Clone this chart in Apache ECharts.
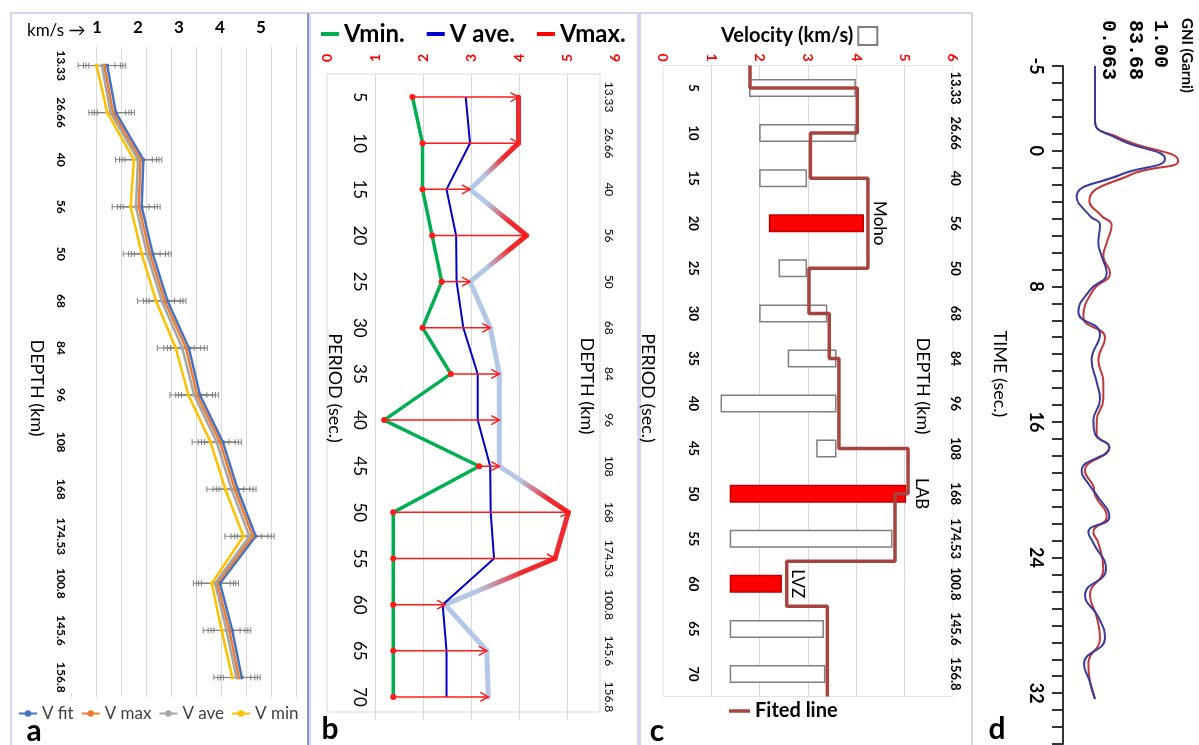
<!DOCTYPE html>
<html><head><meta charset="utf-8">
<script src="https://cdn.jsdelivr.net/npm/echarts@6/dist/echarts.min.js"></script>
<style>html,body{margin:0;padding:0;background:#fff}#c{width:1199px;height:745px}</style>
</head><body><div id="c"></div>
<script>
// ---------- Panel a ----------
const depthLabels = ['13.33','26.66','40','56','50','68','84','96','108','168','174.53','100.8','145.6','156.8'];
const vFit = [1.25,1.46,2.13,2.09,2.36,2.72,3.24,3.51,4.07,4.43,4.87,4.00,4.30,4.53];
const vMaxA = [1.18,1.39,2.06,2.02,2.29,2.65,3.17,3.44,4.00,4.36,4.80,3.93,4.23,4.46];
const vAveA = [1.12,1.33,2.00,1.95,2.22,2.58,3.08,3.37,3.92,4.28,4.72,3.88,4.16,4.40];
const vMinA = [0.99,1.25,1.90,1.82,2.09,2.44,2.92,3.23,3.77,4.13,4.57,3.80,4.04,4.30];
const errA = 0.45;
const speedTicksA = [1,2,3,4,5];

// ---------- Panel b / c ----------
const periods = ['5','10','15','20','25','30','35','40','45','50','55','60','65','70'];
const vMinB = [1.78,1.99,1.99,2.19,2.39,1.99,2.58,1.19,3.17,1.38,1.38,1.38,1.38,1.38];
const vAveB = [2.89,2.98,2.49,2.69,2.70,2.84,3.14,3.14,3.40,3.41,3.48,2.41,2.49,2.49];
const vMaxB = [3.99,3.99,2.98,4.16,2.98,3.40,3.59,3.59,3.59,5.03,4.75,2.46,3.33,3.36];
const vMaxHot = [1,1,0,1,0,0,0,0,0,1,1,0,0,0];
const redBars = [0,0,0,1,0,0,0,0,0,1,0,1,0,0];
const barNotes = ['','','','Moho','','','','','','LAB','','LVZ','',''];
const fitVel = [1.80,4.02,3.05,4.24,3.02,3.44,3.64,5.07,4.80,2.56,3.40];
const fitBreaks = [-0.5,0,1,2,4,5,6,8,9,10.5,11.5,13.5];

// ---------- Panel d ----------
const timeTicks = [-5,0,8,16,24,32];
const blueTrace = [[0,-5],[0,-1.76],[0.27,-0.75],[0.875,0.49],[0.31,1.43],[-0.23,2.73],[-0.0625,3.85],[0.0625,4.38],[0.042,5.44],[0.083,6.21],[0.146,7.21],[-0.0625,8.22],[-0.208,9.51],[0.0625,10.81],[-0.042,12.35],[0.021,13.64],[0.0625,14.65],[-0.021,15.94],[0,16.71],[0.179,17.48],[-0.167,18.89],[-0.0625,19.78],[0.021,20.31],[0.179,21.61],[-0.083,22.49],[-0.021,23.14],[0.1375,24.68],[-0.125,26.21],[0.042,27.51],[0.125,28.75],[-0.1375,30.28],[-0.0625,31.34],[0,32.35]];
const redTrace = [[0,-5],[0,-1.76],[0.3125,-0.75],[1.04,0.60],[0.4375,1.43],[-0.071,2.96],[0.083,3.85],[0.208,4.38],[0.146,5.44],[0.104,6.21],[0.1875,7.21],[-0.021,8.22],[-0.146,9.81],[0.125,11.05],[0.042,12.35],[0.104,13.64],[0.104,14.65],[0.021,15.94],[0.021,16.71],[0.179,17.48],[-0.125,18.89],[-0.021,19.78],[0,20.31],[0.146,21.61],[-0.021,22.49],[0.042,23.14],[0.104,24.68],[-0.0625,26.21],[0.021,27.51],[0.0625,28.75],[-0.083,30.28],[-0.0625,31.34],[0,32.35]];

const FF = 'Lato, "Noto Sans", "DejaVu Sans", sans-serif';
const chart = echarts.init(document.getElementById('c'), null, {renderer:'canvas'});

const errData = [];
[vFit, vMaxA, vAveA, vMinA].forEach(arr => arr.forEach((v,i) => errData.push([i, v])));

const segData = [];
for (let i = 0; i < vMaxB.length - 1; i++) segData.push([i, vMaxB[i], vMaxB[i+1], vMaxHot[i], vMaxHot[i+1]]);

const arrowData = periods.map((p,i) => [i, vMinB[i], vMaxB[i]]);

const fitPts = [];
fitVel.forEach((v,k) => { fitPts.push([v, fitBreaks[k]]); fitPts.push([v, fitBreaks[k+1]]); });

const HOT = '#ee2a2e', COOL = '#b4c7e7';

function rotText(x, y, text, size, weight) {
  return {type:'text', x:x, y:y, rotation:-Math.PI/2,
    style:{text:text, font:(weight||'normal') + ' ' + size + 'px ' + FF, fill:'#000', align:'center', verticalAlign:'middle'}};
}

const option = {
  animation:false,
  backgroundColor:'#fff',
  textStyle:{fontFamily:FF},
  grid:[
    {left:71, top:42, width:225, height:659},
    {left:71, top:47, width:225, height:646},
    {left:327, top:74, width:288, height:646},
    {left:327, top:74, width:273, height:638, show:true, borderColor:'#d5dbee', borderWidth:1},
    {left:663, top:65.5, width:290, height:631, show:true, borderColor:'#dde2f1', borderWidth:1},
    {left:1063, top:66, width:128, height:678}
  ],
  xAxis:[
    {gridIndex:0, type:'value', min:0.366, max:5.854, position:'top', axisLine:{show:false}, axisTick:{show:false}, splitLine:{show:false},
     axisLabel:{customValues:speedTicksA, fontSize:17, fontWeight:'bold', color:'#000', margin:6}},
    {gridIndex:1, type:'value', min:0, max:9, interval:1, position:'bottom', axisLine:{show:false},
     axisTick:{show:true, length:4, lineStyle:{color:'#d9d9d9'}}, axisLabel:{show:false},
     splitLine:{show:true, showMinLine:false, lineStyle:{color:'#d9d9d9'}}},
    {gridIndex:2, type:'value', min:0, max:6, interval:1, position:'top', axisLine:{show:false}, axisTick:{show:false},
     splitLine:{show:true, showMinLine:false, showMaxLine:false, lineStyle:{color:'#d9d9d9'}},
     axisLabel:{rotate:-90, color:'#ff0000', fontSize:14, fontWeight:'bold', margin:12}},
    {gridIndex:3, type:'value', show:false},
    {gridIndex:4, type:'value', min:0, max:6, interval:1, position:'top', axisLine:{show:false}, axisTick:{show:false},
     splitLine:{show:true, showMinLine:false, showMaxLine:false, lineStyle:{color:'#d9d9d9'}},
     axisLabel:{rotate:-90, color:'#ff0000', fontSize:14, fontWeight:'bold', margin:4}},
    {gridIndex:5, type:'value', min:-0.4, max:1.2, show:false}
  ],
  yAxis:[
    {gridIndex:0, type:'category', data:depthLabels, inverse:true, axisLine:{show:false}, axisTick:{show:false},
     axisLabel:{interval:0, rotate:-90, fontSize:12, fontWeight:'bold', color:'#000', margin:4}},
    {gridIndex:1, type:'value', show:false},
    {gridIndex:2, type:'category', data:periods, inverse:true, position:'left', axisLine:{show:false}, axisTick:{show:false},
     axisLabel:{interval:0, inside:true, rotate:-90, fontSize:17, color:'#000', margin:24}},
    {gridIndex:2, type:'category', data:depthLabels, inverse:true, position:'right', axisLine:{show:false}, axisTick:{show:false},
     axisLabel:{interval:0, inside:true, rotate:-90, fontSize:12, color:'#000', margin:0}},
    {gridIndex:3, type:'value', show:false},
    {gridIndex:4, type:'category', data:periods, inverse:true, position:'left', axisLine:{show:false}, axisTick:{show:false},
     axisLabel:{interval:0, inside:true, rotate:-90, fontSize:13, fontWeight:'bold', color:'#000', margin:24}},
    {gridIndex:4, type:'category', data:depthLabels, inverse:true, position:'right', axisLine:{show:false}, axisTick:{show:false},
     axisLabel:{interval:0, rotate:-90, fontSize:13, fontWeight:'bold', color:'#000', margin:-4}},
    {gridIndex:4, type:'value', min:-0.5, max:13.5, inverse:true, show:false},
    {gridIndex:5, type:'value', min:-5, max:35, interval:1, inverse:true, position:'left',
     axisLine:{show:true, onZero:false, lineStyle:{color:'#333', width:2}}, axisTick:{show:true, length:11, lineStyle:{color:'#333', width:2}},
     splitLine:{show:false},
     axisLabel:{customValues:timeTicks, rotate:-90, fontSize:18, fontWeight:'bold', color:'#000', margin:18}}
  ],
  legend:[
    {data:['V fit','V max','V ave','V min'], left:13, top:700, itemWidth:18, itemHeight:8, itemGap:7,
     textStyle:{fontSize:17, color:'#404040', fontFamily:FF}},
    {data:['Vmin.','V ave.','Vmax.'], left:316, top:17, icon:'rect', itemWidth:18, itemHeight:4, itemGap:22,
     textStyle:{fontSize:24, fontWeight:'bold', color:'#000', fontFamily:FF}},
    {data:['Velocity (km/s)'], left:716, top:21, align:'right', icon:'rect', itemWidth:19, itemHeight:18,
     textStyle:{fontSize:20, fontWeight:'bold', color:'#000', fontFamily:FF}},
    {data:['Fited line'], left:724, top:696, icon:'rect', itemWidth:21, itemHeight:3.5,
     textStyle:{fontSize:20, fontWeight:'bold', color:'#000', fontFamily:FF}}
  ],
  series:[
    {type:'custom', xAxisIndex:0, yAxisIndex:0, data:errData, encode:{x:1, y:0}, z:1, silent:true,
     renderItem:function(params, api){
       const i = api.value(0), v = api.value(1);
       const a = api.coord([v-errA, i]), b = api.coord([v+errA, i]);
       const st = {stroke:'#808080', lineWidth:1};
       return {type:'group', children:[
         {type:'line', shape:{x1:a[0],y1:a[1],x2:b[0],y2:b[1]}, style:st},
         {type:'line', shape:{x1:a[0],y1:a[1]-3,x2:a[0],y2:a[1]+3}, style:st},
         {type:'line', shape:{x1:b[0],y1:b[1]-3,x2:b[0],y2:b[1]+3}, style:st}
       ]};
     }},
    {name:'V fit', type:'line', xAxisIndex:0, yAxisIndex:0, data:vFit, symbol:'circle', symbolSize:4, color:'#4472c4', lineStyle:{width:2.5}, z:5},
    {name:'V max', type:'line', xAxisIndex:0, yAxisIndex:0, data:vMaxA, symbol:'circle', symbolSize:4, color:'#ed7d31', lineStyle:{width:2.5}, z:5},
    {name:'V ave', type:'line', xAxisIndex:0, yAxisIndex:0, data:vAveA, symbol:'circle', symbolSize:4, color:'#a5a5a5', lineStyle:{width:2.5}, z:5},
    {name:'V min', type:'line', xAxisIndex:0, yAxisIndex:0, data:vMinA, symbol:'circle', symbolSize:4, color:'#ffc000', lineStyle:{width:2.5}, z:5},
    {name:'Vmax.', type:'custom', xAxisIndex:2, yAxisIndex:2, data:segData, encode:{x:[1,2], y:0}, itemStyle:{color:'#ff0000'}, z:2,
     renderItem:function(params, api){
       const i = api.value(0);
       const p0 = api.coord([api.value(1), i]), p1 = api.coord([api.value(2), i+1]);
       const c0 = api.value(3) ? HOT : COOL, c1 = api.value(4) ? HOT : COOL;
       const grad = new echarts.graphic.LinearGradient(p0[0], p0[1], p1[0], p1[1],
         [{offset:0, color:c0},{offset:0.3, color:c0},{offset:0.7, color:c1},{offset:1, color:c1}], true);
       return {type:'line', shape:{x1:p0[0],y1:p0[1],x2:p1[0],y2:p1[1]}, style:{stroke:grad, lineWidth:5, lineCap:'round'}};
     }},
    {name:'V ave.', type:'line', xAxisIndex:2, yAxisIndex:2, data:vAveB, symbol:'none', color:'#0000cc', lineStyle:{width:2}, z:3},
    {name:'Vmin.', type:'line', xAxisIndex:2, yAxisIndex:2, data:vMinB, symbol:'none', color:'#00b050', lineStyle:{width:3.5}, z:3},
    {type:'custom', xAxisIndex:2, yAxisIndex:2, data:arrowData, encode:{x:[1,2], y:0}, z:4, silent:true,
     renderItem:function(params, api){
       const i = api.value(0);
       const p0 = api.coord([api.value(1), i]), p1 = api.coord([api.value(2), i]);
       const d = p1[0] >= p0[0] ? 1 : -1;
       const st = {stroke:'#ff1a1a', lineWidth:1.5, fill:null};
       return {type:'group', children:[
         {type:'line', shape:{x1:p0[0],y1:p0[1],x2:p1[0],y2:p1[1]}, style:st},
         {type:'polyline', shape:{points:[[p1[0]-8*d,p1[1]-4.5],[p1[0],p1[1]],[p1[0]-8*d,p1[1]+4.5]]}, style:st},
         {type:'circle', shape:{cx:p0[0], cy:p0[1], r:3}, style:{fill:'#ff1a1a'}}
       ]};
     }},
    {type:'bar', xAxisIndex:4, yAxisIndex:5, stack:'v', data:vMinB, barWidth:18, itemStyle:{color:'rgba(0,0,0,0)'}, silent:true, z:2},
    {name:'Velocity (km/s)', type:'bar', xAxisIndex:4, yAxisIndex:5, stack:'v', barWidth:18, z:2,
     itemStyle:{color:'#ffffff', borderColor:'#7f7f7f', borderWidth:1.5},
     data: vMaxB.map((v,i) => ({
       value: +(v - vMinB[i]).toFixed(3),
       itemStyle: redBars[i] ? {color:'#ff0000', borderColor:'#c00000'} : undefined,
       label: barNotes[i] ? {show:true, formatter:barNotes[i], position:'right', distance:7, rotate:-90,
                             align:'center', verticalAlign:'bottom', fontSize:17, color:'#000', fontFamily:FF} : undefined
     }))},
    {name:'Fited line', type:'line', xAxisIndex:4, yAxisIndex:7, data:fitPts, symbol:'none', color:'#a8443f', lineStyle:{width:3.5}, z:4},
    {name:'red', type:'line', xAxisIndex:5, yAxisIndex:8, data:redTrace, smooth:0.5, symbol:'none', color:'#c0383a', lineStyle:{width:2}, z:3},
    {name:'blue', type:'line', xAxisIndex:5, yAxisIndex:8, data:blueTrace, smooth:0.5, symbol:'none', color:'#3b3b9c', lineStyle:{width:2}, z:4}
  ],
  graphic:[
    {type:'rect', shape:{x:11, y:13, width:297, height:740}, style:{fill:null, stroke:'#c3c9ea', lineWidth:1.5}, z:-1},
    {type:'line', shape:{x1:308, y1:13, x2:308, y2:745}, style:{stroke:'#7282c8', lineWidth:1.5}},
    {type:'rect', shape:{x:310, y:13, width:328, height:740}, style:{fill:null, stroke:'#c3c9ea', lineWidth:1.5}, z:-1},
    {type:'rect', shape:{x:640, y:13, width:332, height:740}, style:{fill:null, stroke:'#c3c9ea', lineWidth:1.5}, z:-1},
    {type:'text', x:27, y:31, style:{text:'km/s \u2192', font:'normal 17px ' + FF, fill:'#000', align:'left', verticalAlign:'middle'}},
    rotText(37, 388, 'DEPTH (km)', 18),
    rotText(587, 386, 'DEPTH (km)', 18),
    rotText(335, 388, 'PERIOD (sec.)', 18),
    rotText(923, 386, 'DEPTH (km)', 18),
    rotText(648, 388, 'PERIOD (sec.)', 18),
    rotText(1000, 374, 'TIME (sec.)', 18),
    {type:'text', x:1187, y:18, rotation:-Math.PI/2, style:{text:'GNI (Garni)', font:'bold 15px ' + FF, fill:'#000', align:'left', verticalAlign:'middle'}},
    {type:'text', x:1160, y:20, rotation:-Math.PI/2, style:{text:'1.00', font:'bold 20px "Liberation Mono", monospace', fill:'#000', align:'left', verticalAlign:'middle'}},
    {type:'text', x:1135, y:20, rotation:-Math.PI/2, style:{text:'83.68', font:'bold 20px "Liberation Mono", monospace', fill:'#000', align:'left', verticalAlign:'middle'}},
    {type:'text', x:1108, y:20, rotation:-Math.PI/2, style:{text:'0.063', font:'bold 20px "Liberation Mono", monospace', fill:'#000', align:'left', verticalAlign:'middle'}},
    {type:'text', x:34, y:731, style:{text:'a', font:'bold 30px ' + FF, fill:'#000', align:'center', verticalAlign:'middle'}},
    {type:'text', x:330, y:729, style:{text:'b', font:'bold 30px ' + FF, fill:'#000', align:'center', verticalAlign:'middle'}},
    {type:'text', x:657, y:731, style:{text:'c', font:'bold 30px ' + FF, fill:'#000', align:'center', verticalAlign:'middle'}},
    {type:'text', x:997, y:729, style:{text:'d', font:'bold 30px ' + FF, fill:'#000', align:'center', verticalAlign:'middle'}}
  ]
};
chart.setOption(option);
</script></body></html>
